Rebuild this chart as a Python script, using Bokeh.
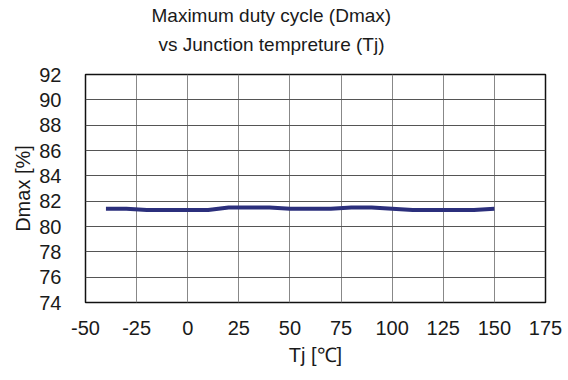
from bokeh.plotting import figure
from bokeh.models import Range1d, FixedTicker, Title
from bokeh.embed import file_html
from bokeh.resources import INLINE

tj = [-40, -30, -20, -10, 0, 10, 20, 30, 40, 50, 60, 70, 80, 90, 100, 110, 120, 130, 140, 150]
dmax = [81.4, 81.4, 81.3, 81.3, 81.3, 81.3, 81.5, 81.5, 81.5, 81.4, 81.4, 81.4, 81.5, 81.5, 81.4, 81.3, 81.3, 81.3, 81.3, 81.4]
x_ticks = [-50, -25, 0, 25, 50, 75, 100, 125, 150, 175]
y_ticks = [74, 76, 78, 80, 82, 84, 86, 88, 90, 92]
title_lines = ["Maximum duty cycle (Dmax)", "vs Junction tempreture (Tj)"]

FONT = "Liberation Sans"
TXT = "#1a1a1a"

p = figure(width=568, height=380, output_backend="svg", toolbar_location=None,
           x_range=Range1d(-50, 175), y_range=Range1d(74, 92),
           min_border_left=85, min_border_right=23, min_border_top=10, min_border_bottom=78)

p.title.visible = False
spacer = Title(text=" ", text_font=FONT, text_font_size="13px", standoff=0)
t2 = Title(text=title_lines[1], align="left", offset=73, text_font=FONT,
           text_font_size="19px", text_font_style="normal", text_color=TXT, standoff=6)
t1 = Title(text=title_lines[0], align="left", offset=66, text_font=FONT,
           text_font_size="19px", text_font_style="normal", text_color=TXT, standoff=5)
p.add_layout(spacer, "above")
p.add_layout(t2, "above")
p.add_layout(t1, "above")

p.line(tj, dmax, line_color="#2b2f7c", line_width=4)

p.xaxis.ticker = FixedTicker(ticks=x_ticks)
p.yaxis.ticker = FixedTicker(ticks=y_ticks)
p.xaxis.major_label_overrides = {t: str(t) for t in x_ticks}
for ax in (p.xaxis, p.yaxis):
    ax.major_tick_line_color = None
    ax.minor_tick_line_color = None
    ax.axis_line_color = None
    ax.major_label_text_font = FONT
    ax.major_label_text_font_size = "20px"
    ax.major_label_text_color = TXT
    ax.axis_label_text_font = FONT
    ax.axis_label_text_font_size = "20px"
    ax.axis_label_text_font_style = "normal"
    ax.axis_label_text_color = TXT

p.xaxis.major_label_standoff = 12
p.yaxis.major_label_standoff = 18
p.xaxis.axis_label = "Tj [℃]"
p.yaxis.axis_label = "Dmax [%]"
p.xaxis.axis_label_standoff = 6
p.yaxis.axis_label_standoff = 2

p.xgrid.grid_line_color = "#888888"
p.ygrid.grid_line_color = "#555555"
p.xgrid.grid_line_width = 1
p.ygrid.grid_line_width = 1
p.outline_line_color = "#111111"
p.outline_line_width = 1.5
p.background_fill_color = "white"
p.border_fill_color = "white"

open("out.html", "w").write(file_html(p, INLINE))
